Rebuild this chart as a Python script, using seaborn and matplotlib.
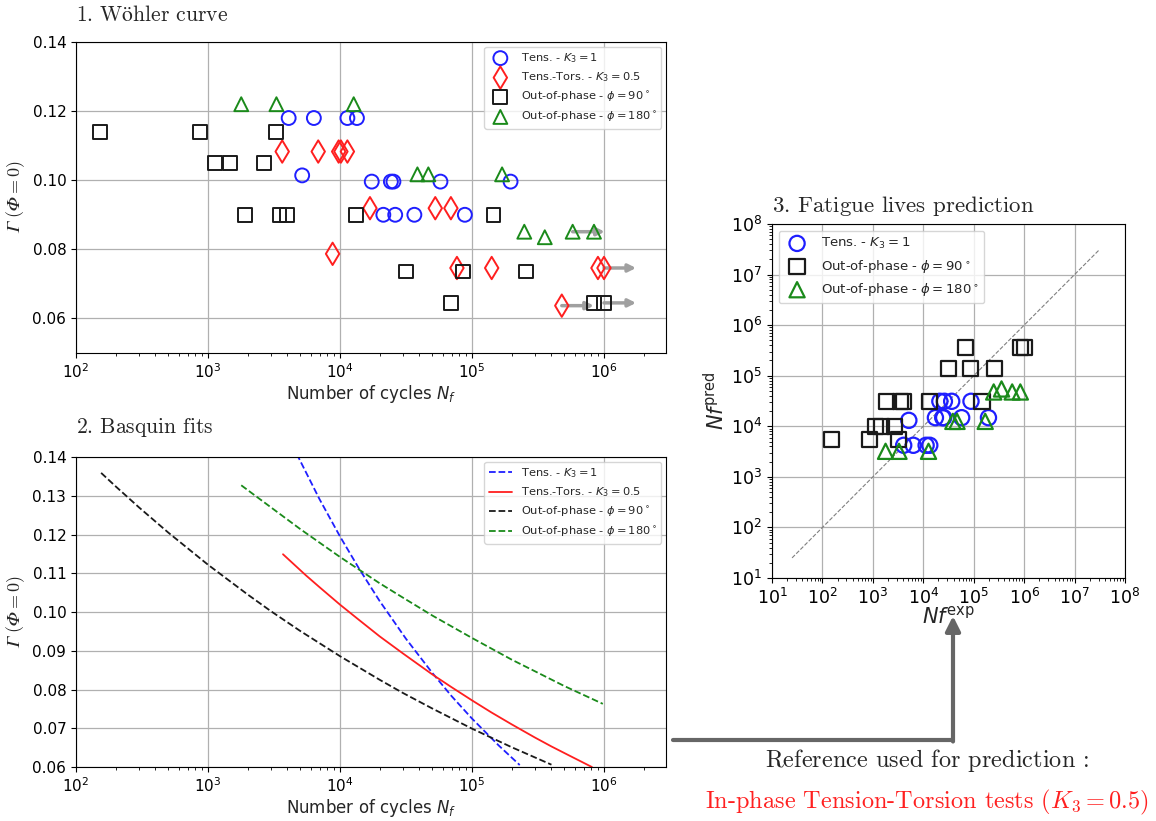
import numpy as np
import pandas as pd
import matplotlib
matplotlib.use("Agg")
import matplotlib.pyplot as plt
from matplotlib.lines import Line2D
from matplotlib.patches import FancyArrowPatch
from matplotlib.ticker import LogLocator, NullFormatter
import seaborn as sns

# ---------------- data ----------------
# 1. Woehler curve : number of cycles to failure / shear amplitude
tens_N = [4085, 6340, 11380, 13440, 5170, 17400, 24300, 25400, 57700, 196000,
          21300, 26200, 36600, 88300]
tens_G = [0.118, 0.118, 0.118, 0.118, 0.1014, 0.0996, 0.0996, 0.0996, 0.0996, 0.0996,
          0.090, 0.090, 0.090, 0.090]
tens_pred = [4210, 4210, 4210, 4210, 13100, 14800, 14800, 14800, 14800, 14800,
             31200, 31200, 31200, 31200]

tt_N = [3650, 6840, 9770, 10160, 11380, 8790, 16870, 52700, 69200,
        76900, 141000, 900000, 1000000, 479000]
tt_G = [0.1083, 0.1083, 0.1083, 0.1083, 0.1083, 0.0787, 0.0919, 0.0919, 0.0919,
        0.0746, 0.0746, 0.0746, 0.0746, 0.0637]
tt_runout = [False] * 12 + [True, True]

oop90_N = [153, 869, 3280, 1133, 1478, 2673, 1897, 3480, 3990, 13250, 145600,
           31700, 85500, 255000, 69700, 840000, 1000000]
oop90_G = [0.114, 0.114, 0.114, 0.1051, 0.1051, 0.1051, 0.090, 0.090, 0.090, 0.090, 0.090,
           0.0736, 0.0736, 0.0736, 0.0645, 0.0645, 0.0645]
oop90_pred = [5450, 5450, 5450, 9850, 9850, 9850, 31200, 31200, 31200, 31200, 31200,
              138000, 138000, 138000, 365000, 365000, 365000]
oop90_runout = [False] * 16 + [True]

oop180_N = [1786, 3300, 12700, 38600, 46700, 169000, 249000, 356000, 579000, 840000]
oop180_G = [0.122, 0.122, 0.122, 0.1017, 0.1017, 0.1017, 0.0851, 0.0835, 0.0851, 0.0851]
oop180_pred = [3200, 3200, 3200, 12500, 12500, 12500, 47700, 54700, 47700, 47700]
oop180_runout = [False] * 8 + [True, False]

# 2. Basquin fits
tens_fit_N = [4700, 7000, 10000, 14000, 20000, 31600, 50000, 70000, 100000, 160000, 230000]
tens_fit_G = [0.1408, 0.1291, 0.1195, 0.1111, 0.1028, 0.0931, 0.0843, 0.0783, 0.0725,
              0.0655, 0.0605]
tt_fit_N = [3700, 5500, 7000, 10000, 14000, 20000, 30000, 50000, 70000, 100000,
            140000, 200000, 300000, 400000, 550000, 810000]
tt_fit_G = [0.1149, 0.1095, 0.1064, 0.1019, 0.0979, 0.0937, 0.0893, 0.0839, 0.0806,
            0.0772, 0.0741, 0.0710, 0.0676, 0.0653, 0.0629, 0.0600]
oop90_fit_N = [155, 200, 300, 500, 1000, 2000, 3000, 5000, 10000, 20000, 30000, 50000,
               100000, 200000, 400000]
oop90_fit_G = [0.1359, 0.1324, 0.1270, 0.1205, 0.1122, 0.1045, 0.1002, 0.0951, 0.0886,
               0.0825, 0.0791, 0.0751, 0.0699, 0.0651, 0.0606]
oop180_fit_N = [1786, 3000, 5000, 10000, 20000, 30000, 50000, 100000, 200000, 300000,
                500000, 980000]
oop180_fit_G = [0.1327, 0.1270, 0.1214, 0.1142, 0.1074, 0.1037, 0.0991, 0.0933, 0.0877,
                0.0847, 0.0809, 0.0763]

# 3. prediction : y = x reference line
ref_line = [25, 3e7]

lab_tens = r"Tens. - $K_3 = 1$"
lab_tt = r"Tens.-Tors. - $K_3 = 0.5$"
lab_90 = r"Out-of-phase - $\phi = 90^\circ$"
lab_180 = r"Out-of-phase - $\phi = 180^\circ$"

sns.set_style("ticks")
plt.rcParams["axes.edgecolor"] = "black"
plt.rcParams["xtick.color"] = "black"
plt.rcParams["ytick.color"] = "black"

fig = plt.figure(figsize=(11.56, 8.21), dpi=100)
W, H = 1156, 821


def ax_px(l, t, r, b):
    return fig.add_axes([l / W, 1 - b / H, (r - l) / W, (b - t) / H])


ax1 = ax_px(76, 42, 666, 353)
ax2 = ax_px(76, 457, 666, 767)
ax3 = ax_px(772, 224, 1125, 578)


def points(ax, x, y, marker, color, label, s=100, lw=1.4):
    sns.scatterplot(x=x, y=y, ax=ax, marker=marker, facecolor="none",
                    edgecolor=color, linewidth=lw, s=s, zorder=3, label=label)


def runout_arrows(ax, x, y, flags):
    for n, g, f in zip(x, y, flags):
        if f:
            ax.annotate("", xy=(n * 1.75, g), xytext=(n, g),
                        arrowprops=dict(arrowstyle="-|>", color="#a0a0a0", lw=2.5,
                                        mutation_scale=11, shrinkA=0, shrinkB=0),
                        zorder=2)


# ---- panel 1
points(ax1, tens_N, tens_G, "o", "#1f1fff", lab_tens)
points(ax1, tt_N, tt_G, "d", "#ff1f1f", lab_tt, s=130)
points(ax1, oop90_N, oop90_G, "s", "#1a1a1a", lab_90)
points(ax1, oop180_N, oop180_G, "^", "#1a8a1a", lab_180)
runout_arrows(ax1, tt_N, tt_G, tt_runout)
runout_arrows(ax1, oop90_N, oop90_G, oop90_runout)
runout_arrows(ax1, oop180_N, oop180_G, oop180_runout)
ax1.set_ylim(0.05, 0.14)
ax1.set_yticks([0.06, 0.08, 0.10, 0.12, 0.14])

# ---- panel 2
for xs, ys, c, ls, lab in [(tens_fit_N, tens_fit_G, "#1f1fff", "--", lab_tens),
                           (tt_fit_N, tt_fit_G, "#ff1f1f", "-", lab_tt),
                           (oop90_fit_N, oop90_fit_G, "#1a1a1a", "--", lab_90),
                           (oop180_fit_N, oop180_fit_G, "#1a8a1a", "--", lab_180)]:
    sns.lineplot(x=xs, y=ys, ax=ax2, color=c, linestyle=ls, linewidth=1.3, label=lab)
ax2.set_ylim(0.06, 0.14)
ax2.set_yticks(np.arange(0.06, 0.141, 0.01))

for ax in (ax1, ax2):
    ax.set_xscale("log")
    ax.set_xlim(1e2, 2.95e6)
    ax.grid(True, color="#b0b0b0", linewidth=0.9)
    ax.tick_params(labelsize=11)
    ax.set_xlabel(r"Number of cycles $N_f$", fontsize=12, labelpad=1)
    ax.set_ylabel("$\U0001D6E4\\ (\U0001D6F7 = 0)$", fontsize=13,
                  math_fontfamily="cm")
    ax.legend(loc="upper right", fontsize=8.2, borderaxespad=0.4)

ax1.set_title(r"$\text{1. Wöhler curve}$", loc="left", fontsize=15.5,
              math_fontfamily="cm", pad=15)
ax2.set_title(r"$\text{2. Basquin fits}$", loc="left", fontsize=15.5,
              math_fontfamily="cm", pad=17)

# ---- panel 3
sns.lineplot(x=ref_line, y=ref_line, ax=ax3, color="grey", linestyle="--",
             linewidth=0.8)
points(ax3, tens_N, tens_pred, "o", "#1f1fff", lab_tens, s=120, lw=1.6)
points(ax3, oop90_N, oop90_pred, "s", "#1a1a1a", lab_90, s=120, lw=1.6)
points(ax3, oop180_N, oop180_pred, "^", "#1a8a1a", lab_180, s=120, lw=1.6)
ax3.set_xscale("log")
ax3.set_yscale("log")
ax3.set_xlim(1e1, 1e8)
ax3.set_ylim(1e1, 1e8)
for axis in (ax3.xaxis, ax3.yaxis):
    axis.set_major_locator(LogLocator(base=10, numticks=20))
    axis.set_minor_locator(LogLocator(base=10, subs=np.arange(2, 10), numticks=100))
    axis.set_minor_formatter(NullFormatter())
ax3.grid(True, which="major", color="#b0b0b0", linewidth=0.9)
ax3.tick_params(labelsize=12.5)
ax3.set_xlabel(r"$Nf^{\mathrm{exp}}$", fontsize=15, labelpad=-2)
ax3.set_ylabel(r"$Nf^{\mathrm{pred}}$", fontsize=15, labelpad=2)
ax3.legend(loc="upper left", fontsize=9.5, borderaxespad=0.5)
ax3.set_title(r"$\text{3. Fatigue lives prediction}$", loc="left", fontsize=16.5,
              math_fontfamily="cm", pad=9)

# ---- link arrow and reference note
fig.add_artist(Line2D([673 / W, 953 / W], [1 - 740 / H, 1 - 740 / H],
                      transform=fig.transFigure, color="#666666", linewidth=3))
fig.add_artist(FancyArrowPatch((953 / W, 1 - 741.5 / H), (953 / W, 1 - 616 / H),
                               transform=fig.transFigure, arrowstyle="-|>",
                               mutation_scale=22, color="#666666", linewidth=3,
                               shrinkA=0, shrinkB=0))
fig.text(927 / W, 1 - 760 / H, r"$\text{Reference used for prediction :}$",
         ha="center", va="center", fontsize=17.5, math_fontfamily="cm")
fig.text(927 / W, 1 - 802 / H, r"$\text{In-phase Tension-Torsion tests }(K_3 = 0.5)$",
         ha="center", va="center", fontsize=17.5, math_fontfamily="cm", color="#ff2020")

fig.savefig("out.png", dpi=100)
